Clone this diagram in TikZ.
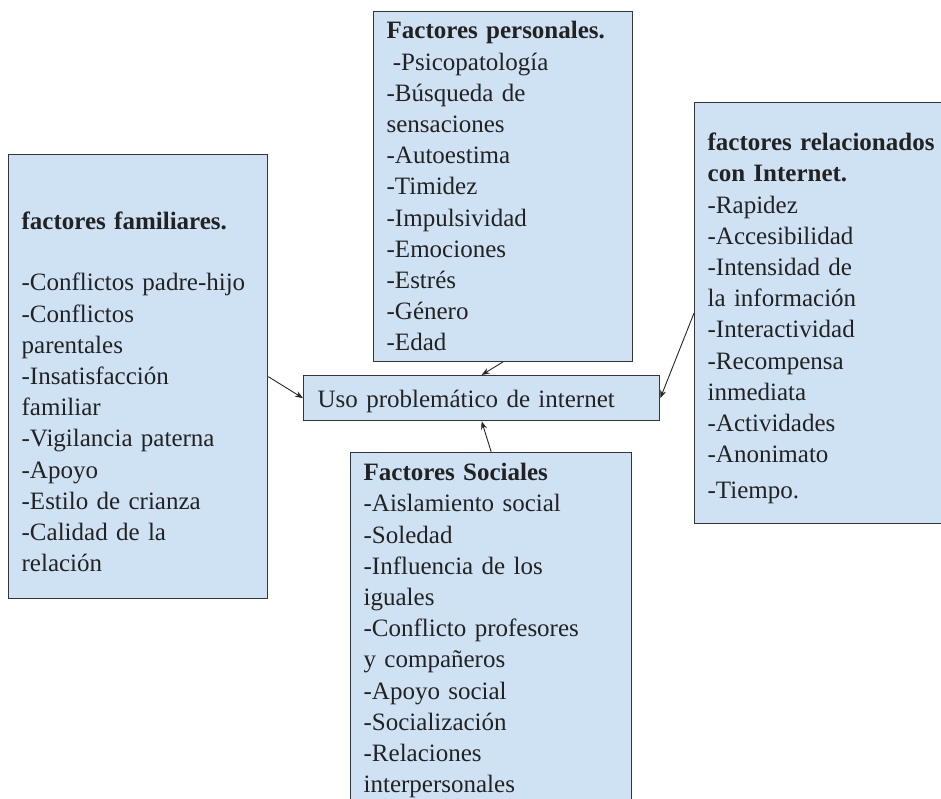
\documentclass[tikz,border=0pt]{standalone}
\usepackage{fontspec}
\setmainfont{Liberation Serif}
\usetikzlibrary{arrows.meta}
\definecolor{boxblue}{HTML}{CFE2F3}
\definecolor{boxline}{HTML}{353535}
\definecolor{txtgray}{HTML}{222222}
\begin{document}
\begin{tikzpicture}[x=1pt, y=-1pt,
  factorbox/.style={draw=boxline, line width=1.3pt, fill=boxblue, anchor=north west, align=left, font=\fontsize{25}{31.2}\selectfont, text=txtgray, inner xsep=13pt, inner ysep=0pt},
  arrow/.style={-{Stealth[length=8pt, width=6pt]}, line width=0.9pt, draw=black!85}
]
\clip (0,0) rectangle (941,798);
\node[factorbox, text width=233pt, text height=27.8pt, text depth=322.2pt] (pers) at (373,10.5) {\textbf{Factores personales.}\\\hspace*{0.25em}-Psicopatología\\-Búsqueda de\\sensaciones\\-Autoestima\\-Timidez\\-Impulsividad\\-Emociones\\-Estrés\\-Género\\-Edad};
\node[factorbox, text width=233pt, text height=75pt, text depth=369pt] (fam) at (8,154) {\textbf{factores familiares.}\\[30pt]-Conflictos padre-hijo\\-Conflictos\\parentales\\-Insatisfacción\\familiar\\-Vigilancia paterna\\-Apoyo\\-Estilo de crianza\\-Calidad de la\\relación};
\node[factorbox, text width=240pt, text height=48pt, text depth=373pt] (net) at (694,102) {\textbf{factores relacionados}\\\textbf{con Internet.}\\-Rapidez\\-Accesibilidad\\-Intensidad de\\la información\\-Interactividad\\-Recompensa\\inmediata\\-Actividades\\-Anonimato\\[5pt]-Tiempo.};
\node[factorbox, text width=255pt, text height=28.3pt, text depth=335pt] (soc) at (350,451.7) {\textbf{Factores Sociales}\\-Aislamiento social\\-Soledad\\-Influencia de los\\iguales\\-Conflicto profesores\\y compañeros\\-Apoyo social\\-Socialización\\-Relaciones\\interpersonales};
\node[factorbox, inner xsep=14pt, text width=328pt, text height=31.7pt, text depth=13.3pt] (uso) at (303,375) {Uso problemático de internet};

\draw[arrow] (pers.south) -- (uso.north);
\draw[arrow] (fam.east) -- (uso.west);
\draw[arrow] (net.west) -- (uso.east);
\draw[arrow] (soc.north) -- (uso.south);
\end{tikzpicture}
\end{document}
